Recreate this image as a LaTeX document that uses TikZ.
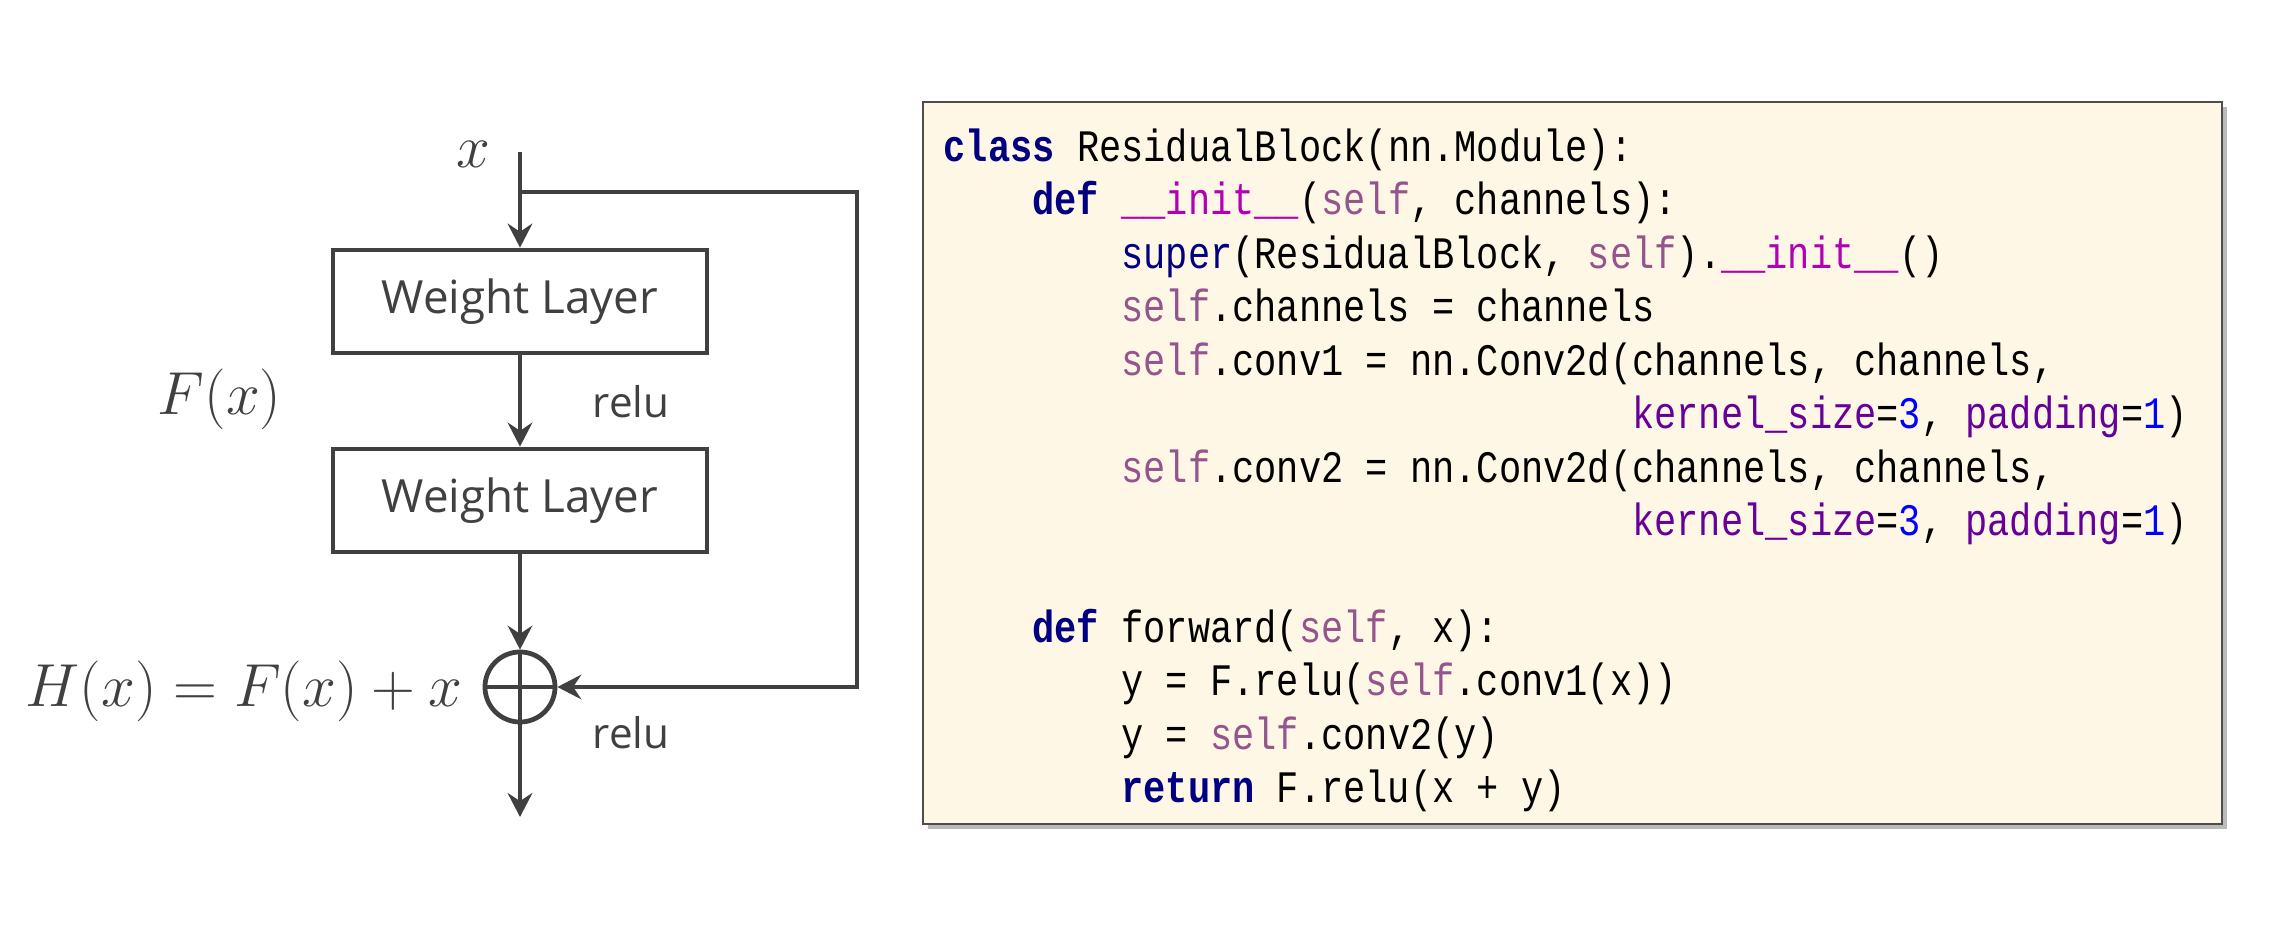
\documentclass[tikz,border=0pt]{standalone}
\usepackage{fontspec}
\setsansfont{Open Sans}
\newfontfamily\codefont[FakeStretch=0.8225]{Liberation Mono}
\usetikzlibrary{arrows.meta, shadows}
\definecolor{linegry}{HTML}{404040}
\definecolor{codebg}{HTML}{FFF7E5}
\definecolor{codebrd}{HTML}{4D4D4D}
\definecolor{kwnavy}{HTML}{000080}
\definecolor{slfpurp}{HTML}{94558D}
\definecolor{magpink}{HTML}{B200B2}
\definecolor{argpurp}{HTML}{660099}
\definecolor{numblue}{HTML}{0000FF}

\newlength\codecw
\setlength\codecw{0.222cm}
\newcommand{\ind}[1]{\hspace*{#1\codecw}}
\newcommand{\kw}[1]{\textcolor{kwnavy}{\bfseries #1}}
\newcommand{\slf}{\textcolor{slfpurp}{self}}
\newcommand{\dunder}[1]{\textcolor{magpink}{#1}}
\newcommand{\karg}[1]{\textcolor{argpurp}{#1}}
\newcommand{\numc}[1]{\textcolor{numblue}{#1}}

\tikzset{
  wlayer/.style={draw=linegry, line width=1.35pt, minimum width=3.74cm, minimum height=1.03cm,
    inner sep=0, text=linegry, font=\sffamily\fontsize{13pt}{15pt}\selectfont},
  addnode/.style={circle, draw=linegry, line width=1.35pt, minimum size=0.70cm, inner sep=0},
  conn/.style={draw=linegry, line width=1.35pt, -{Stealth[length=6.8pt, width=7pt, inset=2.3pt]}},
  lbl/.style={inner sep=0, text=linegry, font=\sffamily\fontsize{12pt}{14pt}\selectfont},
  mathlbl/.style={inner sep=0, text=linegry, font=\fontsize{16.5pt}{18pt}\selectfont},
  codetxt/.style={inner sep=0, align=left, font=\codefont\fontsize{12.8pt}{15.2pt}\selectfont}
}

\begin{document}
\begin{tikzpicture}[x=0.01cm, y=-0.01cm]
\useasboundingbox (0,0) rectangle (2274,937);

% residual block
\coordinate (in) at (520,152);
\coordinate (split) at (520,192);
\coordinate (rtop) at (857,192);
\coordinate (rbot) at (857,687);
\coordinate (out) at (520,817);

\node[wlayer] (wl1) at (520,301.5) {Weight Layer};
\node[wlayer] (wl2) at (520,500.5) {Weight Layer};
\node[addnode] (add) at (520,687) {};
\draw[linegry, line width=1.35pt] (add.north) -- (add.south);
\draw[linegry, line width=1.35pt] (add.west) -- (add.east);

\draw[conn] (in) -- (wl1.north);
\draw[conn] (wl1) -- (wl2);
\draw[conn] (wl2) -- (add);
\draw[conn] (add) -- (out);
\draw[conn, line join=miter] (split) -- (rtop) -- (rbot) -- (add.east);

\node[mathlbl] (xin) at (473,154) {$x$};
\node[mathlbl, anchor=base west] (fx) at (157,415) {$F(x)$};
\node[mathlbl, anchor=base west] (hx) at (25,707) {$H(x)=F(x)+x$};
\node[lbl, anchor=base west] (relu1) at (592,418) {relu};
\node[lbl, anchor=base west] (relu2) at (592,749) {relu};

% code panel
\draw[draw=codebrd, fill=codebg, line width=0.6pt,
  drop shadow={shadow xshift=0.05cm, shadow yshift=-0.05cm, fill=black!60, opacity=0.45}]
  (923,102) rectangle (2222,824);
\node[codetxt, anchor=north west] (code) at (943,128) {%
\kw{class} ResidualBlock(nn.Module):\\
\ind{4}\kw{def} \dunder{\_\_init\_\_}(\slf, channels):\\
\ind{8}\textcolor{kwnavy}{super}(ResidualBlock, \slf).\dunder{\_\_init\_\_}()\\
\ind{8}\slf.channels = channels\\
\ind{8}\slf.conv1 = nn.Conv2d(channels, channels,\\
\ind{31}\karg{kernel\_size}=\numc{3}, \karg{padding}=\numc{1})\\
\ind{8}\slf.conv2 = nn.Conv2d(channels, channels,\\
\ind{31}\karg{kernel\_size}=\numc{3}, \karg{padding}=\numc{1})\\
\mbox{}\\
\ind{4}\kw{def} forward(\slf, x):\\
\ind{8}y = F.relu(\slf.conv1(x))\\
\ind{8}y = \slf.conv2(y)\\
\ind{8}\kw{return} F.relu(x + y)};
\end{tikzpicture}
\end{document}
